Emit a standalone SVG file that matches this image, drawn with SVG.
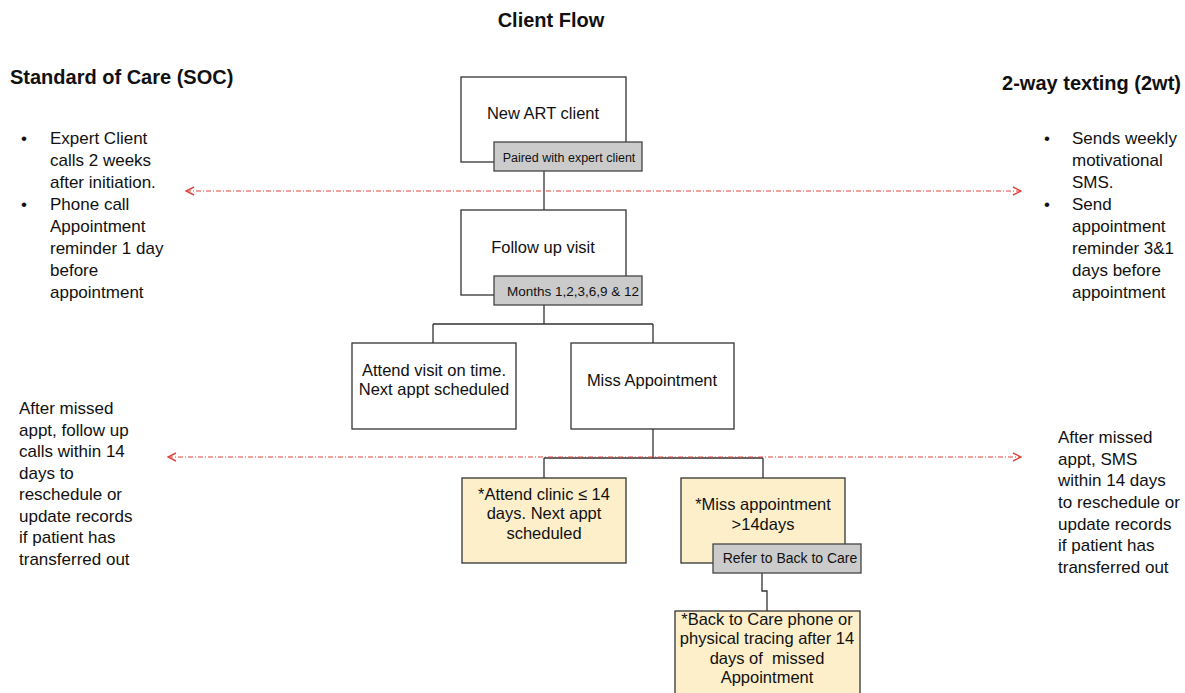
<svg xmlns="http://www.w3.org/2000/svg" width="1185" height="693" viewBox="0 0 1185 693">
<defs>
<marker id="chev" viewBox="0 0 10 10" refX="9" refY="5" markerWidth="10" markerHeight="10" markerUnits="userSpaceOnUse" orient="auto-start-reverse">
<path d="M1,1 L9,5 L1,9" fill="none" stroke="#e0473c" stroke-width="1.4"/>
</marker>
<style>
text{font-family:"Liberation Sans",Arial,sans-serif;fill:#111}
.h{font-weight:bold;font-size:20px}
.side{font-size:17px}
.box{fill:#fff;stroke:#333;stroke-width:1.3}
.ybox{fill:#fcefca;stroke:#333;stroke-width:1.3}
.gbox{fill:#cbcbcb;stroke:#444;stroke-width:1.3}
.bt{font-size:16.5px;text-anchor:middle}
.gt{font-size:12.5px;text-anchor:middle}
.conn{fill:none;stroke:#333;stroke-width:1.3}
.div{fill:none;stroke:#e0473c;stroke-width:1.2;stroke-dasharray:5 2 1 2}
</style>
</defs>
<rect width="1185" height="693" fill="#fff"/>
<text class="h" x="551" y="27" text-anchor="middle">Client Flow</text>
<g id="soc-heading"><text class="h" x="10" y="84">Standard of Care (SOC)</text></g>
<g id="twt-heading"><text class="h" x="1181" y="90" text-anchor="end">2-way texting (2wt)</text></g>
<g id="soc-bullets">
<text x="21" y="144" class="side">•</text>
<text x="21" y="210" class="side">•</text>
<text x="50" y="144" class="side">Expert Client</text>
<text x="50" y="166" class="side">calls 2 weeks</text>
<text x="50" y="188" class="side">after initiation.</text>
<text x="50" y="210" class="side">Phone call</text>
<text x="50" y="232" class="side">Appointment</text>
<text x="50" y="254" class="side">reminder 1 day</text>
<text x="50" y="276" class="side">before</text>
<text x="50" y="298" class="side">appointment</text>
</g>
<g id="twt-bullets">
<text x="1044" y="144" class="side">•</text>
<text x="1044" y="210" class="side">•</text>
<text x="1072" y="144" class="side">Sends weekly</text>
<text x="1072" y="166" class="side">motivational</text>
<text x="1072" y="188" class="side">SMS.</text>
<text x="1072" y="210" class="side">Send</text>
<text x="1072" y="232" class="side">appointment</text>
<text x="1072" y="254" class="side">reminder 3&amp;1</text>
<text x="1072" y="276" class="side">days before</text>
<text x="1072" y="298" class="side">appointment</text>
</g>
<g id="soc-missed">
<text x="19" y="414" class="side">After missed</text>
<text x="19" y="436" class="side">appt, follow up</text>
<text x="19" y="457" class="side">calls within 14</text>
<text x="19" y="479" class="side">days to</text>
<text x="19" y="500" class="side">reschedule or</text>
<text x="19" y="522" class="side">update records</text>
<text x="19" y="543" class="side">if patient has</text>
<text x="19" y="565" class="side">transferred out</text>
</g>
<g id="twt-missed">
<text x="1058" y="443" class="side">After missed</text>
<text x="1058" y="465" class="side">appt, SMS</text>
<text x="1058" y="486" class="side">within 14 days</text>
<text x="1058" y="508" class="side">to reschedule or</text>
<text x="1058" y="530" class="side">update records</text>
<text x="1058" y="551" class="side">if patient has</text>
<text x="1058" y="573" class="side">transferred out</text>
</g>
<g id="connectors">
<path class="conn" d="M544,171 V210"/>
<path class="conn" d="M544,305 V324 M433,324 H653 M433,324 V343 M653,324 V343"/>
<path class="conn" d="M653,429 V458 M544,458 H763 M544,458 V478 M763,458 V478"/>
<path class="conn" d="M762,573 V591 H767 V611"/>
<path class="div" d="M186,191 H1021" marker-start="url(#chev)" marker-end="url(#chev)"/>
<path class="div" d="M168,457 H1021" marker-start="url(#chev)" marker-end="url(#chev)"/>
</g>
<g id="new-art">
<rect class="box" x="461" y="77" width="165" height="85"/>
<text class="bt" x="543" y="119">New ART client</text>
<rect class="gbox" x="494" y="142" width="148" height="29"/>
<text class="gt" x="569" y="162">Paired with expert client</text>
</g>
<g id="follow-up">
<rect class="box" x="461" y="210" width="165" height="85"/>
<text class="bt" x="543" y="253">Follow up visit</text>
<rect class="gbox" x="494" y="276" width="148" height="29"/>
<text class="gt" x="573" y="296" style="font-size:13.5px">Months 1,2,3,6,9 &amp; 12</text>
</g>
<g id="attend-visit">
<rect class="box" x="352" y="343" width="164" height="86"/>
<text class="bt" x="434" y="376">Attend visit on time.</text>
<text class="bt" x="434" y="395">Next appt scheduled</text>
</g>
<g id="miss-appt">
<rect class="box" x="571" y="343" width="163" height="86"/>
<text class="bt" x="652" y="386">Miss Appointment</text>
</g>
<g id="attend-clinic">
<rect class="ybox" x="462" y="478" width="164" height="85"/>
<text class="bt" x="544" y="500">*Attend clinic ≤ 14</text>
<text class="bt" x="544" y="519">days. Next appt</text>
<text class="bt" x="544" y="539">scheduled</text>
</g>
<g id="miss-14">
<rect class="ybox" x="681" y="478" width="164" height="85"/>
<text class="bt" x="763" y="510">*Miss appointment</text>
<text class="bt" x="763" y="530">&gt;14days</text>
<rect class="gbox" x="713" y="544" width="148" height="29"/>
<text class="gt" x="790" y="563" style="font-size:14px">Refer to Back to Care</text>
</g>
<g id="back-to-care">
<rect class="ybox" x="675" y="611" width="185" height="90"/>
<text class="bt" x="767" y="625">*Back to Care phone or</text>
<text class="bt" x="767" y="644">physical tracing after 14</text>
<text class="bt" x="767" y="664" style="white-space:pre">days of  missed</text>
<text class="bt" x="767" y="683">Appointment</text>
</g>
</svg>
